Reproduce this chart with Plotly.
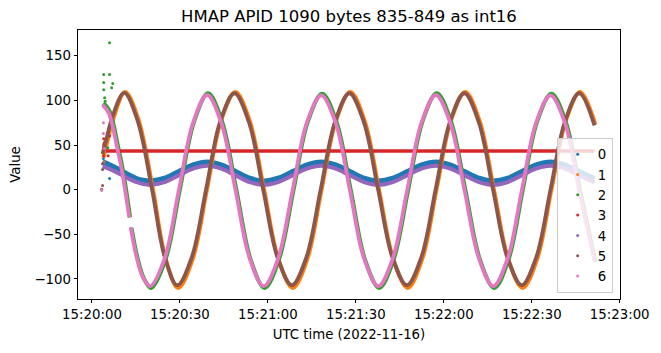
import pandas as pd
import plotly.graph_objects as go

BASE = pd.Timestamp("2022-11-16 15:20:00")

# ---- time offsets (seconds after 15:20:00) ----
# group A: series 0, 2, 4, 6 (in phase) ; group B: series 1, 5
t_early_a = [3.6, 5.7, 8.8, 10.4, 12.7, 12.95, 13.2, 15.2, 17.5]
t_wave_a = [19.9, 24.8, 29.6, 34.5, 39.3, 44.1, 49.0, 53.8, 58.6, 63.5, 68.4, 73.3,
            78.2, 83.1, 88.0, 92.8, 97.7, 102.6, 107.5, 112.4, 117.3, 122.2, 127.1,
            132.0, 136.9, 141.8, 146.6, 151.5, 156.4, 161.3, 166.2, 171.4]
t_early_b = [3.6, 4.8, 7.1, 11.0, 15.5, 20.5, 24.8]
t_wave_b = [29.1, 34.0, 38.9, 43.7, 48.6, 53.5, 58.4, 63.3, 68.2, 73.1, 78.0, 82.9,
            87.8, 92.7, 97.6, 102.5, 107.4, 112.3, 117.2, 122.1, 127.0, 131.9, 136.8,
            141.7, 146.6, 151.5, 156.4, 161.3, 166.2, 171.4]
t_red = [4.8, 40.0, 80.0, 120.0, 171.4]
LAG_2_1 = 0.3  # series 2 and 1 trail series 6 and 5 by about a pixel

# ---- values ----
s0_early = [31, 28.5, 23.5, 20.5, 16.5, 16, 15.5, 12.5, 10.5]
s0_wave = [9.8, 12.8, 20.3, 27.8, 31, 27.8, 20.3, 12.8, 9.8, 12.8, 20.3, 27.8, 31, 27.8, 20.3, 12.8,
           9.8, 12.8, 20.3, 27.8, 31, 27.8, 20.3, 12.8, 9.8, 12.8, 20.3, 27.8, 31, 27.8, 20.3, 12.4]
s4_early = [26, 23.5, 18.8, 16, 12, 11.6, 11.2, 8.5, 6.2]
s4_wave = [5.4, 8.5, 16, 23.5, 26.7, 23.5, 16, 8.5, 5.4, 8.5, 16, 23.5, 26.7, 23.5, 16, 8.5,
           5.4, 8.5, 16, 23.5, 26.7, 23.5, 16, 8.5, 5.4, 8.5, 16, 23.5, 26.7, 23.5, 16, 8.1]
s6_early = [95, 86, 44, 18, -31, None, -42, -75, -99]
s6_wave = [-108, -77, -1, 75, 106, 75, -1, -77, -108, -77, -1, 75, 105.5, 75, -1, -77,
           -108, -77, -1, 75, 106, 75, -1, -77, -108, -77, -1, 75, 105.5, 75, -1, -80]
s2_early = [97, 88, 45, 19, -31, None, -43, -76, -100]
s2_wave = [-110, -78, -1, 76, 108, 76, -1, -78, -110, -78, -1, 76, 107.5, 76, -1, -78,
           -110, -78, -1, 76, 108, 76, -1, -78, -110, -78, -1, 76, 107.5, 76, -1, -81]
s5_early = [40, 55, 83, 108.5, 78, 0, -75]
s5_wave = [-107, -76, 0, 76, 108, 76, 0, -76, -107, -76, 0, 76, 108, 76, 0, -76,
           -107, -76, 0, 76, 108, 76, 0, -76, -107, -76, 0, 76, 108, 72]
s1_early = [36, 52, 81, 109.5, 79, 0, -77]
s1_wave = [-110, -78, 0, 77, 109.5, 77, 0, -78, -110, -78, 0, 77, 109.5, 77, 0, -78,
           -110, -78, 0, 77, 109.5, 77, 0, -78, -110, -78, 0, 77, 109.5, 73]
s3_line = [43.3, 43.3, 43.2, 43.3, 43.3]

# scattered start-up samples (time s, value)
pts_t = {
    "0": [3.3, 3.9, 6.0],
    "1": [3.3, 3.9, 4.0],
    "2": [3.3, 4.0, 4.0, 4.0, 6.0, 6.0, 7.1, 6.7, 4.3, 4.5, 5.4],
    "3": [3.3, 4.0, 4.0, 4.0, 4.0, 6.0, 5.5, 4.3],
    "4": [3.3, 3.9],
    "5": [3.3, 3.6, 3.6, 3.6],
    "6": [3.3, 3.9, 3.9, 4.2],
}
pts_v = {
    "0": [0, 35, 12.5],
    "1": [0, 46, 31],
    "2": [0, 129, 120, 112, 129, 164.5, 119, 114, 103, 99, 47],
    "3": [0, 57, 51, 48, 38, 60, 38, 53],
    "4": [0, 30],
    "5": [0, 4.8, 22.6, 29],
    "6": [0, 75, 63, 46],
}

names = ["0", "1", "2", "3", "4", "5", "6"]
colors = ["#1f77b4", "#ff7f0e", "#2ca02c", "#d62728", "#9467bd", "#8c564b", "#e377c2"]


def ts(seconds, lag=0.0):
    return [BASE + pd.Timedelta(seconds=s + lag) for s in seconds]


line_x = {
    "0": ts(t_early_a + t_wave_a),
    "1": ts(t_early_b + t_wave_b, LAG_2_1),
    "2": ts(t_early_a + t_wave_a, LAG_2_1),
    "3": ts(t_red),
    "4": ts(t_early_a + t_wave_a),
    "5": ts(t_early_b + t_wave_b),
    "6": ts(t_early_a + t_wave_a),
}
line_y = {
    "0": s0_early + s0_wave,
    "1": s1_early + s1_wave,
    "2": s2_early + s2_wave,
    "3": s3_line,
    "4": s4_early + s4_wave,
    "5": s5_early + s5_wave,
    "6": s6_early + s6_wave,
}
widths = {"0": 5, "1": 4, "2": 4, "3": 3.5, "4": 4, "5": 3.8, "6": 3.8}

FONT = "DejaVu Sans"
fig = go.Figure()
for name, col in zip(names, colors):
    fig.add_trace(go.Scatter(
        x=line_x[name], y=line_y[name], mode="lines",
        line=dict(color=col, width=widths[name], shape="spline"),
        connectgaps=False, showlegend=False, name=name, hoverinfo="skip"))
    fig.add_trace(go.Scatter(
        x=ts(pts_t[name]), y=pts_v[name], mode="markers",
        marker=dict(color=col, size=3), name=name, showlegend=True))

fig.update_layout(
    width=661, height=353,
    margin=dict(l=78, r=41, t=30, b=54, autoexpand=False),
    paper_bgcolor="white", plot_bgcolor="white",
    font=dict(family=FONT, size=13.3, color="black"),
    title=dict(text="HMAP APID 1090 bytes 835-849 as int16", x=0.5, xref="paper",
               y=1 - 16.5 / 353, yref="container", yanchor="middle",
               font=dict(family=FONT, size=16.5, color="black")),
    legend=dict(x=0.9865, xanchor="right", y=0.022, yanchor="bottom",
                bgcolor="rgba(255,255,255,0.8)", bordercolor="#cccccc", borderwidth=1,
                font=dict(family=FONT, size=13.3, color="black")),
)
axis_style = dict(showgrid=False, zeroline=False, showline=True, linecolor="black",
                  linewidth=0.8, mirror=True, ticks="outside", ticklen=3.5, tickwidth=0.8,
                  tickcolor="black", automargin=False,
                  tickfont=dict(family=FONT, size=13.3, color="black"))
fig.update_xaxes(
    type="date",
    range=[BASE - pd.Timedelta(seconds=4.77), BASE + pd.Timedelta(seconds=180.1)],
    tick0="2022-11-16 15:20:00", dtick=30000, tickformat="%H:%M:%S",
    title=dict(text="UTC time (2022-11-16)", standoff=8,
               font=dict(family=FONT, size=13.3, color="black")),
    **axis_style)
fig.update_yaxes(
    range=[-122.4, 178.8], tickvals=[-100, -50, 0, 50, 100, 150],
    title=dict(text="Value", standoff=10, font=dict(family=FONT, size=13.3, color="black")),
    **axis_style)

fig.write_html("out.html")
